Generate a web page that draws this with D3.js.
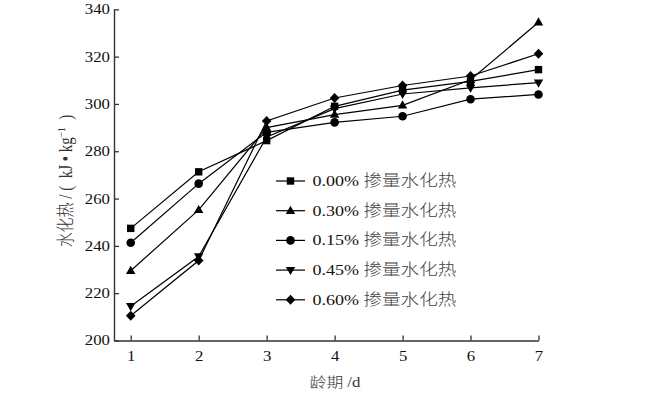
<!DOCTYPE html>
<html>
<head>
<meta charset="utf-8">
<script src="https://cdn.jsdelivr.net/npm/d3@7"></script>
<style>
  html, body { margin: 0; padding: 0; background: #fff; }
  svg { display: block; }
  text { font-family: "Liberation Serif", "Times New Roman", "Noto Sans CJK SC", serif; }
  .cjk { font-family: "Noto Sans CJK SC", sans-serif; font-weight: 300; }
</style>
</head>
<body>
<svg id="chart" width="670" height="394"></svg>
<script>
// ---- data ----
const days = [1, 2, 3, 4, 5, 6, 7];
const seriesNames = ["0.00%", "0.30%", "0.15%", "0.45%", "0.60%"];
const legendSuffix = "掺量水化热";
const s000 = [247.4, 271.3, 284.5, 299.0, 305.8, 309.5, 314.5];
const s030 = [229.5, 255.2, 290.0, 295.5, 299.4, 310.2, 334.5];
const s015 = [241.3, 266.3, 288.0, 292.2, 294.8, 302.0, 304.0];
const s045 = [214.5, 235.5, 286.0, 298.0, 304.2, 306.8, 309.0];
const s060 = [210.5, 233.8, 292.8, 302.5, 307.8, 311.8, 321.2];
const yTicks = [200, 220, 240, 260, 280, 300, 320, 340];
const xTicks = [1, 2, 3, 4, 5, 6, 7];
const xLabel = "龄期 /d";

const seriesValues = [s000, s030, s015, s045, s060];
const markerKinds = ["square", "triangleUp", "circle", "triangleDown", "diamond"];

// ---- custom marker shapes ----
const shapes = {
  square: { draw(c) { const h = 3.7; c.rect(-h, -h, 2 * h, 2 * h); } },
  circle: { draw(c) { const r = 4.3; c.moveTo(r, 0); c.arc(0, 0, r, 0, 2 * Math.PI); } },
  triangleUp: { draw(c) { c.moveTo(0, -5); c.lineTo(4.7, 3.2); c.lineTo(-4.7, 3.2); c.closePath(); } },
  triangleDown: { draw(c) { c.moveTo(0, 5); c.lineTo(4.7, -3.2); c.lineTo(-4.7, -3.2); c.closePath(); } },
  diamond: { draw(c) { c.moveTo(0, -5); c.lineTo(4.8, 0); c.lineTo(0, 5); c.lineTo(-4.8, 0); c.closePath(); } }
};

const svg = d3.select("#chart");
const STRETCH = 1.2;
const axisColor = "#333";

const x = d3.scaleLinear().domain([0.754, 7]).range([114, 538.5]);
const y = d3.scaleLinear().domain([200, 340]).range([340.5, 9.3]);

// ---- axes ----
const gx = svg.append("g").attr("transform", `translate(0,${y(200)})`)
  .call(d3.axisBottom(x).tickValues(xTicks).tickSizeInner(-5).tickSizeOuter(0).tickPadding(11).tickFormat(d3.format("d")));
const gy = svg.append("g").attr("transform", `translate(${x(0.754)},0)`)
  .call(d3.axisLeft(y).tickValues(yTicks).tickSizeInner(-5).tickSizeOuter(0).tickFormat(d3.format("d")));

[gx, gy].forEach(g => {
  g.select(".domain").attr("stroke", axisColor).attr("stroke-width", 1.4);
  g.selectAll(".tick line").attr("stroke", axisColor).attr("stroke-width", 1.3);
  g.selectAll("text").attr("fill", "#111").attr("font-size", 14)
    .attr("font-family", '"Liberation Serif", "Times New Roman", serif');
});
gx.selectAll(".tick text").each(function () {
  const t = d3.select(this);
  const yy = +t.attr("y");
  t.attr("y", 0).attr("transform", `translate(0,${yy}) scale(${STRETCH},1)`);
});
gy.selectAll(".tick text").attr("x", 0).attr("transform", `translate(-4,0) scale(${STRETCH},1)`);

// ---- lines & markers ----
const line = d3.line().x((d, i) => x(days[i])).y(d => y(d));
seriesValues.forEach((vals, si) => {
  svg.append("path").datum(vals)
    .attr("d", line).attr("fill", "none").attr("stroke", "#000").attr("stroke-width", 1.2);
});
seriesValues.forEach((vals, si) => {
  const sym = d3.symbol().type(shapes[markerKinds[si]]);
  svg.append("g").selectAll("path").data(vals).join("path")
    .attr("d", sym)
    .attr("transform", (d, i) => `translate(${x(days[i])},${y(d)})`)
    .attr("fill", "#000");
});

// ---- legend ----
const legend = svg.append("g");
seriesNames.forEach((name, i) => {
  const cy = 181 + i * 29.7;
  const g = legend.append("g").attr("transform", `translate(0,${cy})`);
  g.append("line").attr("x1", 276).attr("x2", 305).attr("y1", 0).attr("y2", 0)
    .attr("stroke", "#000").attr("stroke-width", 1.2);
  g.append("path").attr("d", d3.symbol().type(shapes[markerKinds[i]])())
    .attr("transform", "translate(290.5,0)").attr("fill", "#000");
  const t = g.append("text").attr("transform", `translate(312.5,5) scale(${STRETCH},1)`)
    .attr("font-size", 15).attr("fill", "#111");
  t.append("tspan").text(name + " ");
  t.append("tspan").attr("class", "cjk").attr("font-size", 15.5).attr("fill", "#444").text(legendSuffix);
});

// ---- axis titles ----
svg.append("text")
  .attr("transform", `translate(335,387) scale(${STRETCH},1)`)
  .attr("text-anchor", "middle").attr("font-size", 14).attr("fill", "#333")
  .call(t => {
    t.append("tspan").attr("class", "cjk").text("龄期");
    t.append("tspan").text(" /d");
  });

const yl = svg.append("text")
  .attr("transform", `translate(72,181) scale(${STRETCH},1) rotate(-90)`)
  .attr("text-anchor", "middle").attr("font-size", 15).attr("fill", "#333");
yl.append("tspan").attr("class", "cjk").text("水化热");
yl.append("tspan").attr("xml:space", "preserve").text(" / (  kJ \u2022 kg");
yl.append("tspan").attr("font-size", 9.5).attr("dy", -6).text("\u22121");
yl.append("tspan").attr("dy", 6).text("  )");
yl.attr("style", "white-space: pre");
</script>
</body>
</html>
